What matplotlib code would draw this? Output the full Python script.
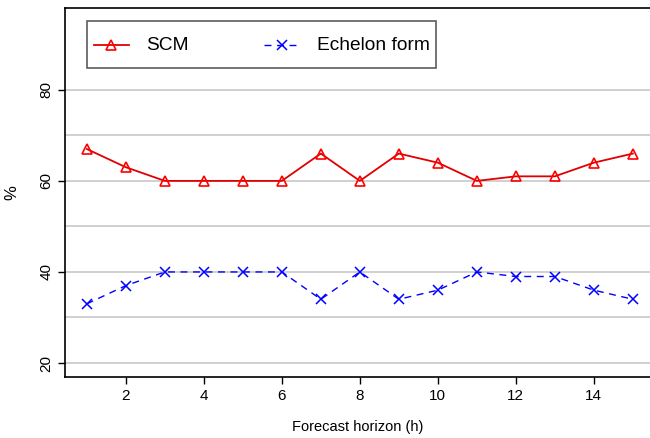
import numpy as np
import matplotlib.pyplot as plt
from matplotlib.legend_handler import HandlerLine2D

plt.rcParams['font.family'] = ['Liberation Sans', 'DejaVu Sans']

horizon = list(range(1, 16))
scm = [67, 63, 60, 60, 60, 60, 66, 60, 66, 64, 60, 61, 61, 64, 66]
echelon = [33, 37, 40, 40, 40, 40, 34, 40, 34, 36, 40, 39, 39, 36, 34]

fig = plt.figure(figsize=(6.5, 4.38), dpi=100)
ax = fig.add_axes([0.1, 0.139, 0.9, 0.843])

for g in range(20, 81, 10):
    ax.axhline(g, color='#c8c8c8', lw=1.2, zorder=0)

l1, = ax.plot(horizon, scm, color='#e00000', lw=1.3, marker='^', ms=7,
              mfc='none', mec='red', mew=1.2, label='SCM')
l2, = ax.plot(horizon, echelon, color='blue', lw=1.0, ls=(0, (5, 4)), marker='x',
              ms=7, mew=1.1, label='Echelon form')

ax.set_xlim(0.44, 15.44)
ax.set_ylim(16.9, 98)
ax.set_xticks(range(2, 15, 2))
ax.set_yticks([20, 40, 60, 80])
ax.tick_params(axis='both', labelsize=11, length=5, width=1)
plt.setp(ax.get_yticklabels(), rotation=90, va='center')
ax.spines['right'].set_visible(False)
for s in ['left', 'bottom', 'top']:
    ax.spines[s].set_linewidth(1.2)

ax.set_xlabel('Forecast horizon (h)', fontsize=10.5, labelpad=12)
ax.set_ylabel('%', fontsize=12, labelpad=14)


def shift_down(leg_line, orig):
    # copy style, then move the handle down to the text middle
    leg_line.update_from(orig)
    leg_line.set_ydata(np.asarray(leg_line.get_ydata()) - 4.5)


hm = {l1: HandlerLine2D(update_func=shift_down),
      l2: HandlerLine2D(update_func=shift_down)}

# legend box placed like the Stata one
leg = ax.legend(loc='upper left', bbox_to_anchor=(0.0376, 0.965), ncol=2,
                fontsize=13.8, frameon=True, fancybox=False, edgecolor='#333333',
                borderpad=0.35, borderaxespad=0, handlelength=1.83,
                handleheight=2.3, columnspacing=3.9, handletextpad=0.93,
                handler_map=hm)
leg.get_frame().set_linewidth(1.2)

fig.savefig('out.png', dpi=100)
